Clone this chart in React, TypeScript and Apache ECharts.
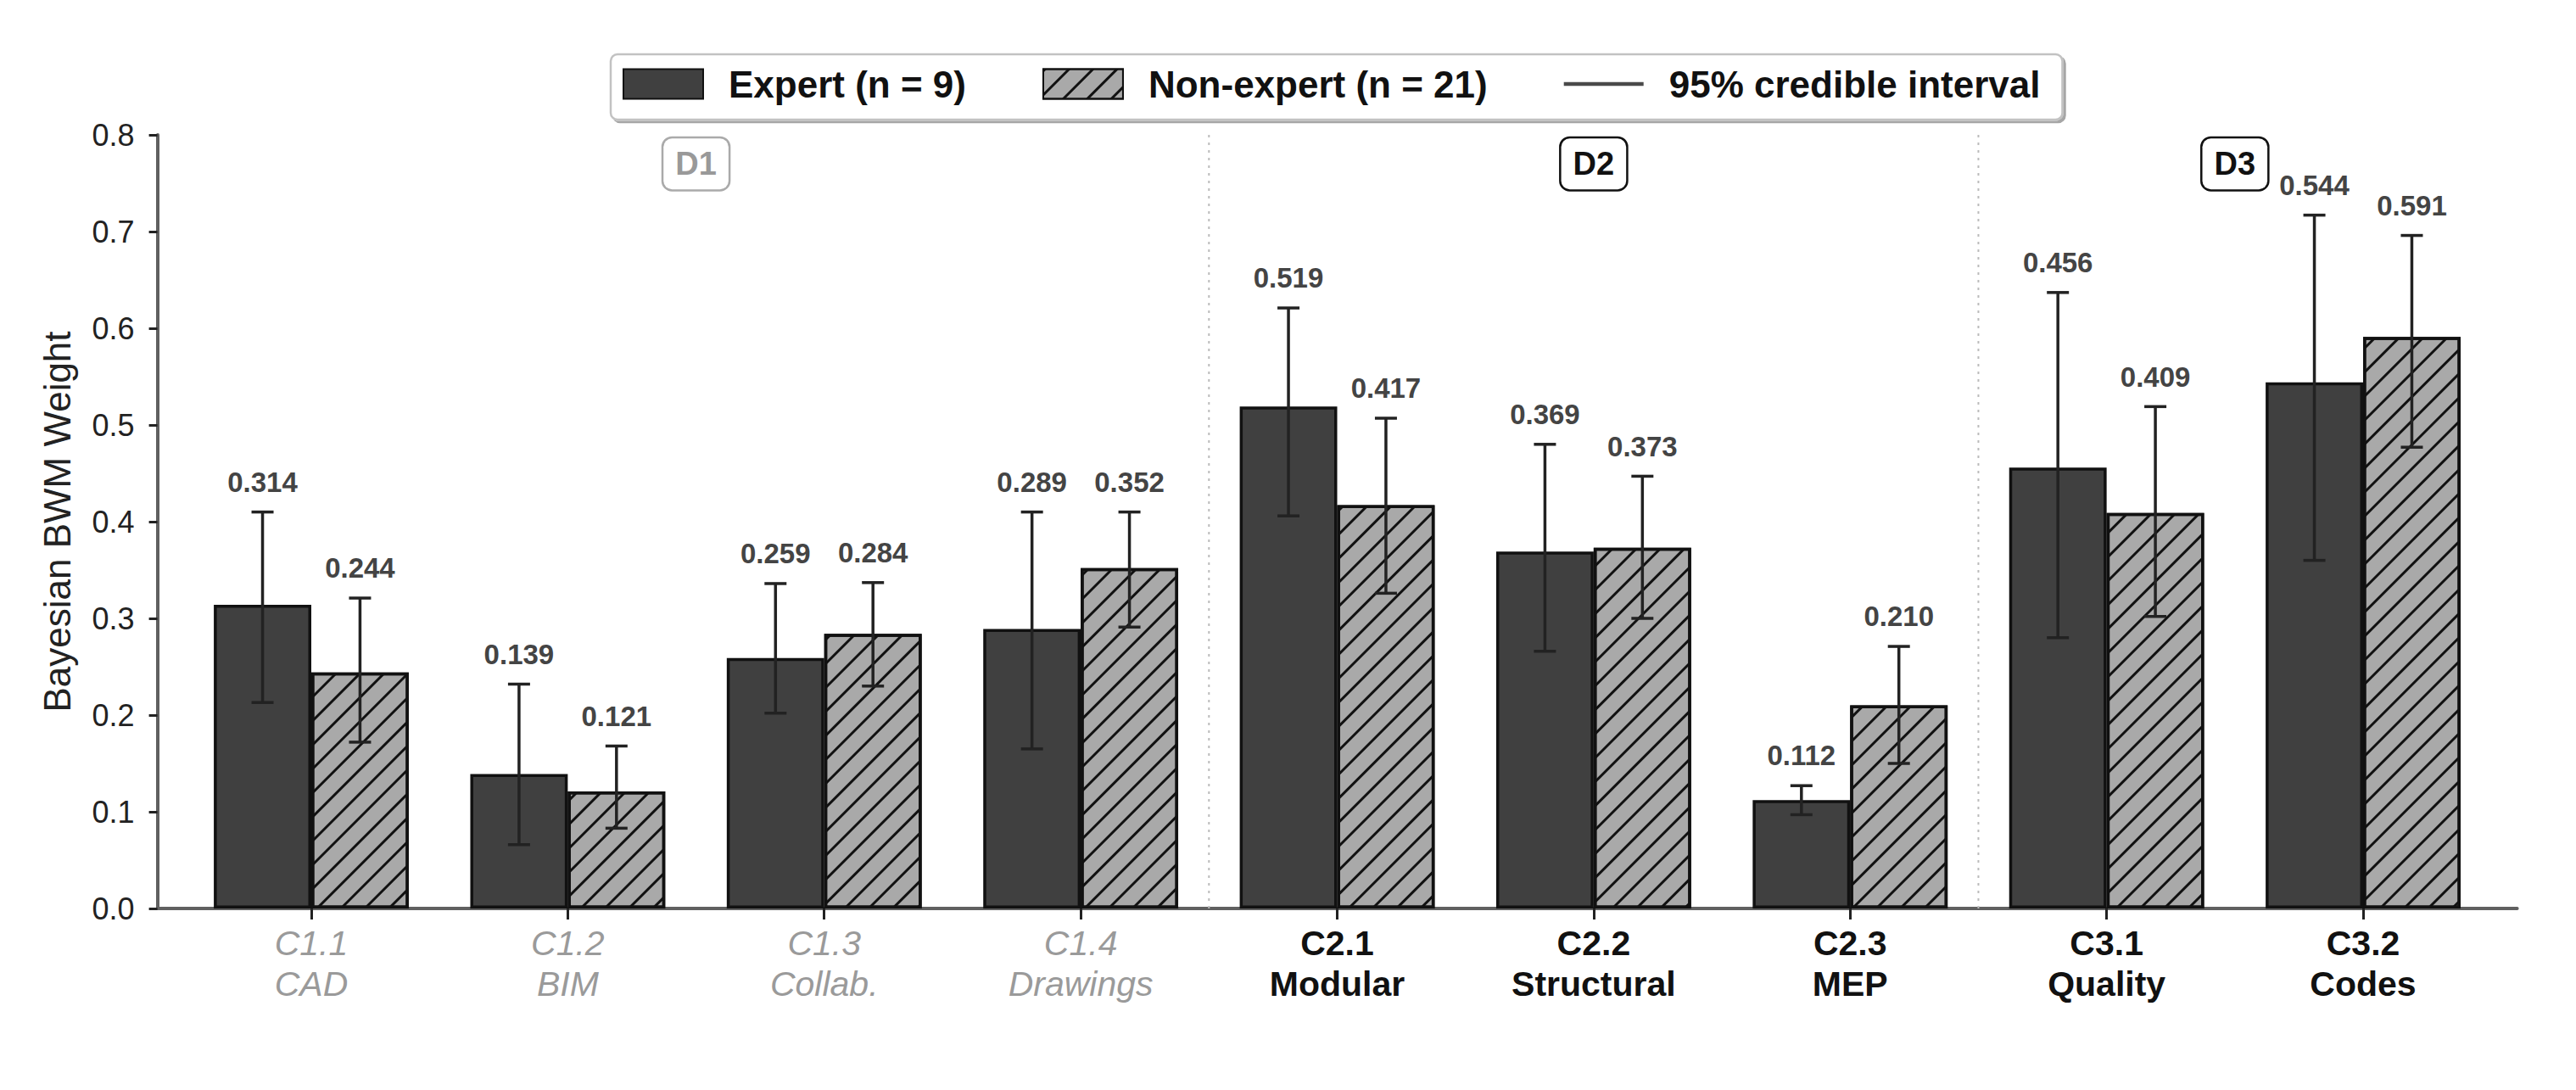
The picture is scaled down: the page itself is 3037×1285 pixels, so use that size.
import React, { useEffect, useRef } from "react";
import * as echarts from "echarts";

// ---------------- data ----------------
const CATEGORY_CODES = ["C1.1", "C1.2", "C1.3", "C1.4", "C2.1", "C2.2", "C2.3", "C3.1", "C3.2"];
const CATEGORY_NAMES = ["CAD", "BIM", "Collab.", "Drawings", "Modular", "Structural", "MEP", "Quality", "Codes"];
const CATEGORY_DOMAIN = [1, 1, 1, 1, 2, 2, 2, 3, 3];

const EXPERT_MEAN = [0.314, 0.139, 0.259, 0.289, 0.519, 0.369, 0.112, 0.456, 0.544];
const EXPERT_LOW = [0.213, 0.066, 0.202, 0.165, 0.406, 0.266, 0.097, 0.28, 0.36];
const EXPERT_HIGH = [0.41, 0.232, 0.336, 0.41, 0.621, 0.48, 0.127, 0.637, 0.717];

const NON_MEAN = [0.244, 0.121, 0.284, 0.352, 0.417, 0.373, 0.21, 0.409, 0.591];
const NON_LOW = [0.172, 0.083, 0.23, 0.291, 0.326, 0.3, 0.15, 0.302, 0.477];
const NON_HIGH = [0.321, 0.168, 0.337, 0.41, 0.507, 0.447, 0.271, 0.519, 0.696];

const DOMAIN_LABELS = ["D1", "D2", "D3"];
const DOMAIN_RANGES = [
  [0, 3],
  [4, 6],
  [7, 8],
];
const SEPARATORS = [
  [3, 4],
  [6, 7],
];

const Y_MIN = 0;
const Y_MAX = 0.8;
const Y_INTERVAL = 0.1;
const DOMAIN_LABEL_Y = 0.77;
const VALUE_LABEL_PAD = 0.031;

const SERIES_EXPERT = "Expert (n = 9)";
const SERIES_NON = "Non-expert (n = 21)";
const SERIES_CI = "95% credible interval";

// ---------------- style ----------------
const FONT = '"Liberation Sans", Arial, Helvetica, sans-serif';
const BAR_FRACTION = 0.38;
const CAP_HALF = 13;
const LINE_ICON = "path://M0,0L0,0M94,35L94,35M0,15.3H94V19.7H0Z";

export default function App() {
  const ref = useRef<HTMLDivElement>(null);

  useEffect(() => {
    if (!ref.current) return;
    const chart = echarts.init(ref.current, undefined, { renderer: "svg" });

    const errorData: number[][] = [];
    for (let i = 0; i < CATEGORY_CODES.length; i++) {
      errorData.push([i, EXPERT_LOW[i], EXPERT_HIGH[i], EXPERT_MEAN[i], -1]);
      errorData.push([i, NON_LOW[i], NON_HIGH[i], NON_MEAN[i], 1]);
    }

    const option: any = {
      animation: false,
      backgroundColor: "#ffffff",
      textStyle: { fontFamily: FONT },
      grid: [
        { left: 215.8, right: 99.8, top: 159, bottom: 214, containLabel: false },
        { left: 185.6, right: 69.4, top: 159, bottom: 214, containLabel: false },
      ],
      legend: {
        left: 720,
        top: 64,
        orient: "horizontal",
        itemWidth: 94,
        itemHeight: 35,
        itemGap: 90,
        padding: [13, 26, 20, 14],
        backgroundColor: "#ffffff",
        borderColor: "#c2c2c2",
        borderWidth: 2.5,
        borderRadius: 8,
        shadowColor: "rgba(0,0,0,0.35)",
        shadowOffsetX: 3,
        shadowOffsetY: 3,
        shadowBlur: 0,
        selectedMode: false,
        textStyle: {
          fontFamily: FONT,
          fontSize: 44,
          fontWeight: "bold",
          color: "#111111",
          padding: [0, 0, 0, 25],
        },
        data: [
          { name: SERIES_EXPERT, icon: "rect" },
          { name: SERIES_NON, icon: "rect" },
          { name: SERIES_CI, icon: LINE_ICON, itemStyle: { color: "#4a4a4a", borderWidth: 0 } },
        ],
      },
      xAxis: [
        {
          type: "category",
          gridIndex: 0,
          data: CATEGORY_CODES,
          boundaryGap: true,
          axisLine: { show: false },
          axisTick: {
            show: true,
            alignWithLabel: true,
            length: 13,
            lineStyle: { color: "#222222", width: 3 },
          },
          axisLabel: {
            interval: 0,
            margin: 17,
            formatter: (v: string, idx: number) => {
              const key = CATEGORY_DOMAIN[idx] === 1 ? "g" : "k";
              return `{${key}|${CATEGORY_CODES[idx]}}\n{${key}|${CATEGORY_NAMES[idx]}}`;
            },
            rich: {
              g: {
                fontFamily: FONT,
                fontSize: 41,
                fontStyle: "italic",
                color: "#9a9a9a",
                lineHeight: 48,
              },
              k: {
                fontFamily: FONT,
                fontSize: 41,
                fontWeight: "bold",
                color: "#111111",
                lineHeight: 48,
              },
            },
          },
          splitLine: { show: false },
        },
        {
          type: "value",
          gridIndex: 1,
          min: 0,
          max: 1,
          axisLine: { show: true, lineStyle: { color: "#606060", width: 4 } },
          axisTick: { show: false },
          axisLabel: { show: false },
          splitLine: { show: false },
        },
      ],
      yAxis: [
        {
          type: "value",
          gridIndex: 0,
          min: Y_MIN,
          max: Y_MAX,
          show: false,
          splitLine: { show: false },
        },
        {
          type: "value",
          gridIndex: 1,
          min: Y_MIN,
          max: Y_MAX,
          interval: Y_INTERVAL,
          name: "Bayesian BWM Weight",
          nameLocation: "middle",
          nameGap: 96,
          nameTextStyle: { fontFamily: FONT, fontSize: 44, color: "#222222" },
          axisLine: { show: true, lineStyle: { color: "#606060", width: 4 } },
          axisTick: { show: true, length: 10, lineStyle: { color: "#222222", width: 3 } },
          axisLabel: {
            margin: 27,
            fontFamily: FONT,
            fontSize: 36,
            color: "#222222",
            formatter: (v: number) => v.toFixed(1),
          },
          splitLine: { show: false },
        },
      ],
      series: [
        {
          name: SERIES_EXPERT,
          type: "bar",
          xAxisIndex: 0,
          yAxisIndex: 0,
          data: EXPERT_MEAN,
          barWidth: `${BAR_FRACTION * 100}%`,
          barGap: "0%",
          itemStyle: { color: "#404040", borderColor: "#111111", borderWidth: 3.5 },
          z: 2,
        },
        {
          name: SERIES_NON,
          type: "bar",
          xAxisIndex: 0,
          yAxisIndex: 0,
          data: NON_MEAN,
          barWidth: `${BAR_FRACTION * 100}%`,
          barGap: "0%",
          itemStyle: {
            color: "#a9a9a9",
            borderColor: "#111111",
            borderWidth: 3.5,
            decal: {
              symbol: "rect",
              symbolSize: 1,
              color: "#111111",
              dashArrayX: [1, 0],
              dashArrayY: [3, 17],
              rotation: -Math.PI / 4,
            },
          },
          z: 2,
        },
        {
          name: SERIES_CI,
          type: "custom",
          xAxisIndex: 0,
          yAxisIndex: 0,
          data: errorData,
          encode: { x: 0, y: [1, 2] },
          itemStyle: { color: "#4a4a4a" },
          z: 5,
          renderItem: (params: any, api: any) => {
            const idx = api.value(0);
            const low = api.value(1);
            const high = api.value(2);
            const mean = api.value(3);
            const side = api.value(4);
            const band = api.size([1, 0])[0];
            const base = api.coord([idx, 0]);
            const x = base[0] + side * band * (BAR_FRACTION / 2);
            const yLow = api.coord([idx, low])[1];
            const yHigh = api.coord([idx, high])[1];
            const yLabel = api.coord([idx, high + VALUE_LABEL_PAD])[1];
            const ls = { stroke: "#222222", lineWidth: 3.5 };
            return {
              type: "group",
              children: [
                { type: "line", shape: { x1: x, y1: yLow, x2: x, y2: yHigh }, style: ls },
                { type: "line", shape: { x1: x - CAP_HALF, y1: yHigh, x2: x + CAP_HALF, y2: yHigh }, style: ls },
                { type: "line", shape: { x1: x - CAP_HALF, y1: yLow, x2: x + CAP_HALF, y2: yLow }, style: ls },
                {
                  type: "text",
                  style: {
                    text: mean.toFixed(3),
                    x: x,
                    y: yLabel,
                    align: "center",
                    verticalAlign: "middle",
                    fill: "#444444",
                    fontFamily: FONT,
                    fontSize: 33,
                    fontWeight: "bold",
                  },
                },
              ],
            };
          },
        },
        {
          name: "separators",
          type: "custom",
          xAxisIndex: 0,
          yAxisIndex: 0,
          data: SEPARATORS,
          z: 1,
          silent: true,
          renderItem: (params: any, api: any) => {
            const a = api.value(0);
            const b = api.value(1);
            const xa = api.coord([a, 0])[0];
            const xb = api.coord([b, 0])[0];
            const x = (xa + xb) / 2;
            const y0 = api.coord([a, Y_MIN])[1];
            const y1 = api.coord([a, Y_MAX])[1];
            return {
              type: "line",
              shape: { x1: x, y1: y1, x2: x, y2: y0 },
              style: { stroke: "#bbbbbb", lineWidth: 2, lineDash: [3, 6] },
            };
          },
        },
        {
          name: "domains",
          type: "custom",
          xAxisIndex: 0,
          yAxisIndex: 0,
          data: DOMAIN_RANGES,
          z: 6,
          silent: true,
          renderItem: (params: any, api: any) => {
            const a = api.value(0);
            const b = api.value(1);
            const xa = api.coord([a, DOMAIN_LABEL_Y])[0];
            const xb = api.coord([b, DOMAIN_LABEL_Y])[0];
            const y = api.coord([a, DOMAIN_LABEL_Y])[1];
            const muted = params.dataIndex === 0;
            return {
              type: "text",
              style: {
                text: DOMAIN_LABELS[params.dataIndex],
                x: (xa + xb) / 2,
                y: y,
                align: "center",
                verticalAlign: "middle",
                fill: muted ? "#999999" : "#111111",
                fontFamily: FONT,
                fontSize: 38,
                fontWeight: "bold",
                backgroundColor: "#ffffff",
                borderColor: muted ? "#aaaaaa" : "#111111",
                borderWidth: 2.5,
                borderRadius: 10,
                padding: [11, 14, 11, 14],
              },
            };
          },
        },
      ],
    };

    chart.setOption(option);
    return () => {
      chart.dispose();
    };
  }, []);

  return (
    <div
      ref={ref}
      style={{ position: "absolute", left: 0, top: 0, width: "3037px", height: "1285px" }}
    />
  );
}
